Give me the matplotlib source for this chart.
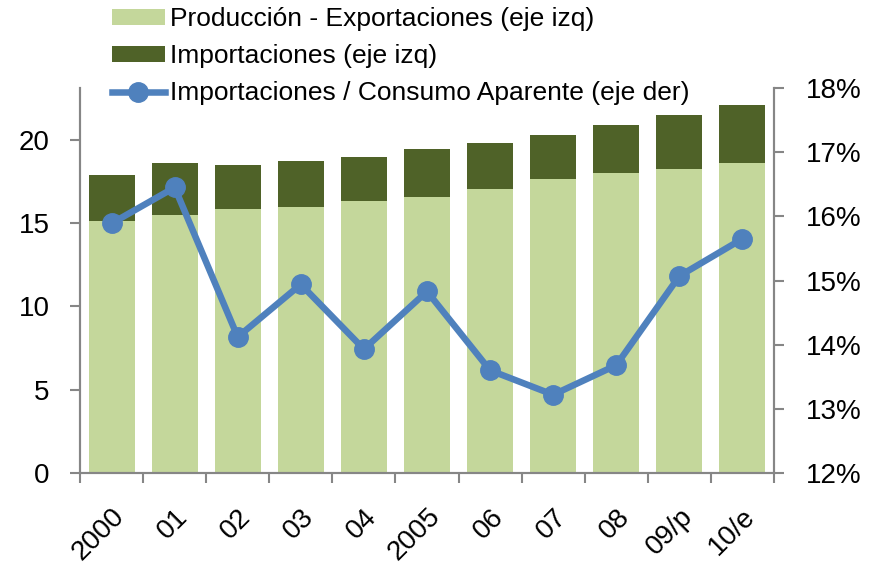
import matplotlib
matplotlib.use("Agg")
import matplotlib.pyplot as plt
from matplotlib.ticker import FuncFormatter, FixedLocator
import numpy as np

plt.rcParams['font.family'] = ['Liberation Sans', 'DejaVu Sans']

# datos
years = ["2000", "01", "02", "03", "04", "2005", "06", "07", "08", "09/p", "10/e"]
prod_menos_export = [15.13, 15.49, 15.85, 15.97, 16.33, 16.57, 17.05, 17.65, 18.01, 18.25, 18.61]
total = [17.89, 18.61, 18.49, 18.73, 18.97, 19.45, 19.81, 20.29, 20.89, 21.49, 22.09]
importaciones = [t - p for t, p in zip(total, prod_menos_export)]
import_consumo = [15.89, 16.45, 14.12, 14.94, 13.93, 14.83, 13.60, 13.22, 13.68, 15.07, 15.65]

gray = "#868686"

fig = plt.figure(figsize=(8.76, 5.66), dpi=100)
ax = fig.add_axes([80 / 876, 1 - 473 / 566, (774 - 80) / 876, (473 - 88) / 566])
x = np.arange(len(years))

b1 = ax.bar(x, prod_menos_export, width=0.73, color="#C4D79B", label="Producción - Exportaciones (eje izq)")
b2 = ax.bar(x, importaciones, width=0.73, bottom=prod_menos_export, color="#4F6228",
            label="Importaciones (eje izq)")

ax.set_xlim(-0.5, len(years) - 0.5)
ax.set_ylim(0, 23.1)
ax.set_yticks([0, 5, 10, 15, 20])
ax.set_xticks(x)
ax.set_xticklabels(years, rotation=45, ha="right", rotation_mode="anchor")
ax.xaxis.set_minor_locator(FixedLocator(np.arange(-0.5, len(years), 1.0)))
ax.tick_params(axis="x", which="major", length=0, pad=22, labelsize=20)
ax.tick_params(axis="x", which="minor", length=7, width=1.5, color=gray, direction="out")
ax.tick_params(axis="y", length=7, width=1.5, color=gray, labelsize=20, pad=15)

ax2 = ax.twinx()
l1, = ax2.plot(x, import_consumo, color="#4F81BD", lw=4.7, marker="o", markersize=14,
               label="Importaciones / Consumo Aparente (eje der)")
ax2.set_ylim(12, 18)
ax2.set_yticks([12, 13, 14, 15, 16, 17, 18])
ax2.yaxis.set_major_formatter(FuncFormatter(lambda v, p: "%d%%" % v))
ax2.tick_params(axis="y", length=7, width=1.5, color=gray, labelsize=20, pad=16)

for a in (ax, ax2):
    a.spines["top"].set_visible(False)
    for s in ("left", "right", "bottom"):
        a.spines[s].set_color(gray)
        a.spines[s].set_linewidth(1.5)

fig.legend(handles=[b1, b2, l1], loc="upper left", bbox_to_anchor=(112 / 876, 1 - 7 / 566),
           frameon=False, fontsize=19, handlelength=2.0, handleheight=0.55,
           handletextpad=0.2, labelspacing=0.5, borderaxespad=0, borderpad=0)

fig.savefig("out.png", dpi=100)
